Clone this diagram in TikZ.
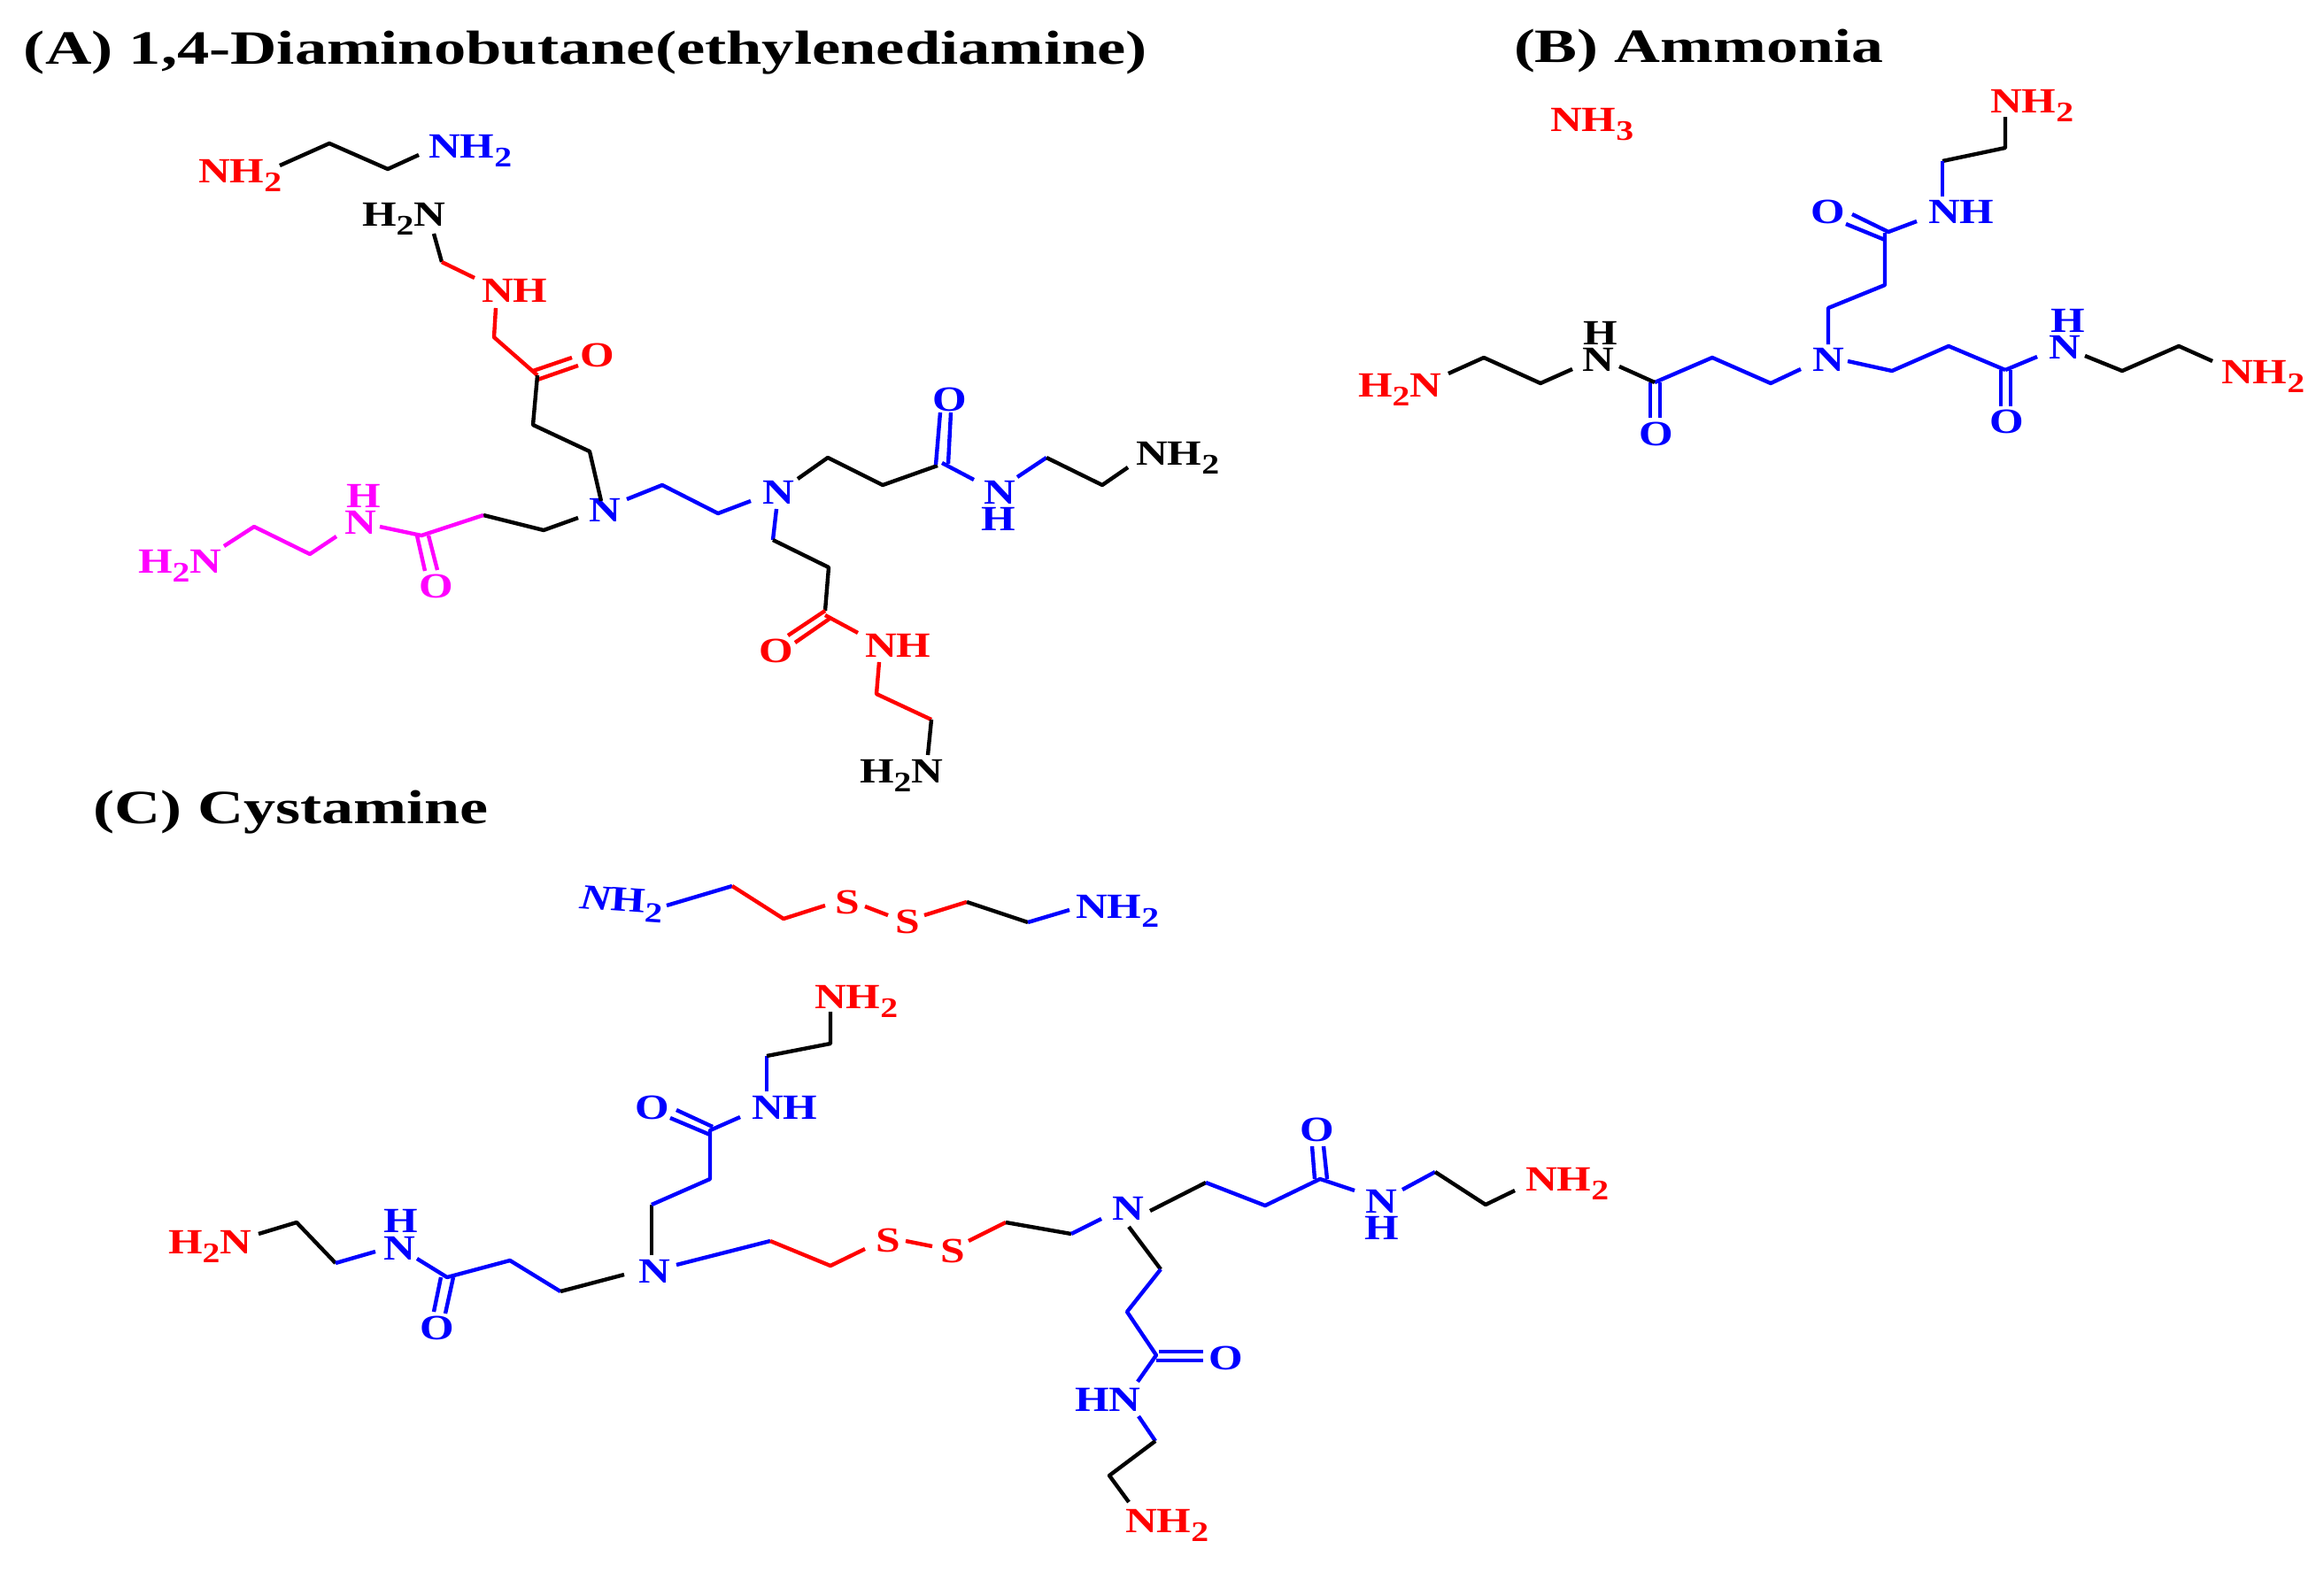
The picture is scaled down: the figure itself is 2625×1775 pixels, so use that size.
\documentclass[tikz,border=0pt]{standalone}
\usepackage{graphicx}
\usepackage{fontspec}
\setmainfont{Liberation Serif}
\definecolor{pureMagenta}{RGB}{255,0,255}
\definecolor{pureRed}{RGB}{255,0,0}
\definecolor{pureBlue}{RGB}{0,0,255}
\newcommand\atm[1]{\scalebox{1.24}[1]{\fontsize{40}{40}\selectfont\bfseries #1}}
\newcommand\sbs[1]{\raisebox{-10pt}{\fontsize{32}{32}\selectfont #1}}
\newcommand\ttl[2]{\resizebox{#1}{\height}{\fontsize{54}{54}\selectfont\bfseries #2}}
\tikzset{
  atom/.style={anchor=base west,inner sep=0pt,outer sep=0pt},
  atR/.style={atom,text=pureRed},
  atB/.style={atom,text=pureBlue},
  atM/.style={atom,text=pureMagenta},
  atK/.style={atom,text=black},
  bond/.style={line width=4.4pt,line join=round},
  bk/.style={bond,draw=black},
  rd/.style={bond,draw=pureRed},
  bl/.style={bond,draw=pureBlue},
  mg/.style={bond,draw=pureMagenta}
}
\begin{document}
\begin{tikzpicture}[x=1pt,y=-1pt]
\useasboundingbox (0,0) rectangle (2625,1775);
% titles
\node[atom] (tA) at (27,72) {\ttl{1269pt}{(A) 1,4-Diaminobutane(ethylenediamine)}};
\node[atom] (tB) at (1710,70) {\ttl{417pt}{(B) Ammonia}};
\node[atom] (tC) at (105,930) {\ttl{447pt}{(C) Cystamine}};
% ------------ panel A
\foreach \n/\x/\y in {e1/316/187,e2/372/162,e3/438/191,e4/473/175,
 a1/490/264,a2/499/296,a3/536/314,a4/560/348,a5/558/381,a6/607/424,a7/602/480,a8/666/510,a9/679/566,
 a10/646/404,a11/602/419,a12/653/413,a13/607/429,
 m1/653/585,m2/614/599,m3/546/582,m4/476/605,m5/429/595,m6/471/605,m7/480/645,m8/484/605,m9/494/644,
 m10/380/606,m11/350/626,m12/287/595,m13/253/617,
 b1/708/564,b2/748/548,b3/811/580,b4/848/566,
 r1/901/541,r2/935/517,r3/997/548,r4/1059/526,r5/1057/525,r6/1062/466,r7/1071/524,r8/1074/466,
 r9/1064/523,r10/1100/542,r11/1149/539,r12/1182/517,r13/1245/548,r14/1274/528,
 d1/877/575,d2/873/610,d3/936/641,d4/932/695,d5/932/690,d6/890/718,d7/937/699,d8/898/726,d9/969/715,
 d10/993/748,d11/990/784,d12/1052/813,d13/1048/853}
 \coordinate (\n) at (\x,\y);
\node[atR] (aNa) at (224,206) {\atm{NH\sbs{2}}};
\node[atB] (aNb) at (484,178) {\atm{NH\sbs{2}}};
\node[atK] (aN1) at (409,255) {\atm{H\sbs{2}N}};
\node[atR] (aN2) at (544,341) {\atm{NH}};
\node[atR] (aO1) at (655,414) {\atm{O}};
\node[atB] (aC1) at (665,589) {\atm{N}};
\node[atM] (aH3) at (391,573) {\atm{H}};
\node[atM] (aN3) at (389,603) {\atm{N}};
\node[atM] (aN4) at (156,647) {\atm{H\sbs{2}N}};
\node[atM] (aO2) at (473,675) {\atm{O}};
\node[atB] (aC2) at (861,569) {\atm{N}};
\node[atB] (aO3) at (1053,464) {\atm{O}};
\node[atB] (aN5) at (1111,569) {\atm{N}};
\node[atB] (aH5) at (1108,599) {\atm{H}};
\node[atK] (aN6) at (1283,525) {\atm{NH\sbs{2}}};
\node[atR] (aO4) at (857,748) {\atm{O}};
\node[atR] (aN7) at (977,742) {\atm{NH}};
\node[atK] (aN8) at (971,884) {\atm{H\sbs{2}N}};
\draw[bk] (e1)--(e2)--(e3)--(e4);
\draw[bk] (a1)--(a2);
\draw[rd] (a2)--(a3);
\draw[rd] (a4)--(a5)--(a6);
\draw[rd] (a10)--(a11);
\draw[rd] (a12)--(a13);
\draw[bk] (a6)--(a7)--(a8)--(a9);
\draw[bk] (m1)--(m2)--(m3);
\draw[mg] (m3)--(m4)--(m5);
\draw[mg] (m6)--(m7);
\draw[mg] (m8)--(m9);
\draw[mg] (m10)--(m11)--(m12)--(m13);
\draw[bl] (b1)--(b2)--(b3)--(b4);
\draw[bk] (r1)--(r2)--(r3)--(r4);
\draw[bl] (r5)--(r6);
\draw[bl] (r7)--(r8);
\draw[bl] (r9)--(r10);
\draw[bl] (r11)--(r12);
\draw[bk] (r12)--(r13)--(r14);
\draw[bl] (d1)--(d2);
\draw[bk] (d2)--(d3)--(d5);
\draw[rd] (d5)--(d6);
\draw[rd] (d7)--(d8);
\draw[rd] (d4)--(d9);
\draw[rd] (d10)--(d11)--(d12);
\draw[bk] (d12)--(d13);
% ------------ panel B
\foreach \n/\x/\y in {u1/2265/132,u2/2265/167,u3/2194/182,u4/2194/222,
 u5/2092/242,u6/2133/262,u7/2085/253,u8/2129/271,u9/2165/250,
 u10/2129/263,u11/2129/322,u12/2065/348,u13/2065/389,
 l1/2034/417,l2/2000/433,l3/1934/404,l4/1869/432,l5/1864/432,l6/1864/472,l7/1875/432,l8/1875/472,
 l9/1829/414,l10/1776/417,l11/1740/433,l12/1676/404,l13/1636/422,
 q1/2087/408,q2/2137/419,q3/2201/391,q4/2265/418,q5/2260/418,q6/2260/459,q7/2271/418,q8/2271/459,
 q9/2301/403,q10/2355/402,q11/2397/419,q12/2461/391,q13/2499/408}
 \coordinate (\n) at (\x,\y);
\node[atR] (bN0) at (1751,148) {\atm{NH\sbs{3}}};
\node[atR] (bN1) at (2248,127) {\atm{NH\sbs{2}}};
\node[atB] (bN2) at (2178,252) {\atm{NH}};
\node[atB] (bO1) at (2045,252) {\atm{O}};
\node[atB] (bC) at (2047,419) {\atm{N}};
\node[atB] (bO2) at (1851,503) {\atm{O}};
\node[atK] (bH3) at (1788,389) {\atm{H}};
\node[atK] (bN3) at (1787,419) {\atm{N}};
\node[atR] (bN4) at (1534,448) {\atm{H\sbs{2}N}};
\node[atB] (bO3) at (2247,489) {\atm{O}};
\node[atB] (bH5) at (2316,375) {\atm{H}};
\node[atB] (bN5) at (2314,405) {\atm{N}};
\node[atR] (bN6) at (2509,433) {\atm{NH\sbs{2}}};
\draw[bk] (u1)--(u2)--(u3);
\draw[bl] (u3)--(u4);
\draw[bl] (u5)--(u6)--(u9);
\draw[bl] (u7)--(u8);
\draw[bl] (u10)--(u11)--(u12)--(u13);
\draw[bl] (l1)--(l2)--(l3)--(l4);
\draw[bl] (l5)--(l6);
\draw[bl] (l7)--(l8);
\draw[bk] (l4)--(l9);
\draw[bk] (l10)--(l11)--(l12)--(l13);
\draw[bl] (q1)--(q2)--(q3)--(q4);
\draw[bl] (q5)--(q6);
\draw[bl] (q7)--(q8);
\draw[bl] (q4)--(q9);
\draw[bk] (q10)--(q11)--(q12)--(q13);
% ------------ panel C, free cystamine
\foreach \n/\x/\y in {c1/753/1023,c2/827/1001,c3/885/1038,c4/932/1023,c5/977/1024,c6/1003/1034,
 c7/1044/1034,c8/1092/1019,c9/1161/1042,c10/1208/1028}
 \coordinate (\n) at (\x,\y);
\node[atB,rotate=-4] (cNa) at (654,1026) {\atm{{\itshape N}H\sbs{2}}};
\node[atR] (cSa) at (943,1032) {\atm{S}};
\node[atR] (cSb) at (1011,1054) {\atm{S}};
\node[atB] (cNb) at (1215,1037) {\atm{NH\sbs{2}}};
\draw[bl] (c1)--(c2);
\draw[rd] (c2)--(c3)--(c4);
\draw[rd] (c5)--(c6);
\draw[rd] (c7)--(c8);
\draw[bk] (c8)--(c9);
\draw[bl] (c9)--(c10);
% ------------ panel C, dendrimer
\foreach \n/\x/\y in {f1/292/1394,f2/335/1381,f3/379/1427,f4/424/1414,f5/471/1422,f6/505/1443,
 f7/498/1443,f8/490/1482,f9/512/1443,f10/503/1484,f11/576/1424,f12/633/1459,f13/705/1440,
 g1/736/1418,g2/736/1361,g3/802/1332,g4/802/1277,g5/764/1254,g6/805/1273,g7/757/1263,g8/802/1282,
 g9/836/1262,g10/866/1233,g11/866/1193,g12/938/1179,g13/938/1143,
 h1/764/1429,h2/870/1402,h3/938/1430,h4/977/1411,h5/1023/1402,h6/1053/1408,h7/1094/1402,h8/1136/1381,
 h9/1210/1394,h10/1244/1377,
 j1/1299/1368,j2/1362/1336,j3/1429/1362,j4/1491/1332,j5/1482/1295,j6/1485/1332,j7/1495/1295,j8/1499/1332,
 j9/1530/1345,j10/1584/1344,j11/1621/1324,j12/1678/1361,j13/1711/1345,
 k1/1275/1386,k2/1311/1434,k3/1273/1482,k4/1306/1531,k5/1309/1527,k6/1359/1527,k7/1306/1537,k8/1359/1537,
 k9/1285/1561,k10/1286/1600,k11/1305/1628,k12/1253/1667,k13/1275/1697}
 \coordinate (\n) at (\x,\y);
\node[atR] (dN1) at (190,1416) {\atm{H\sbs{2}N}};
\node[atB] (dH2) at (433,1392) {\atm{H}};
\node[atB] (dN2) at (433,1423) {\atm{N}};
\node[atB] (dO1) at (474,1513) {\atm{O}};
\node[atB] (dC1) at (721,1449) {\atm{N}};
\node[atB] (dO2) at (717,1264) {\atm{O}};
\node[atB] (dN3) at (849,1264) {\atm{NH}};
\node[atR] (dN4) at (920,1139) {\atm{NH\sbs{2}}};
\node[atR] (dS1) at (989,1414) {\atm{S}};
\node[atR] (dS2) at (1062,1426) {\atm{S}};
\node[atB] (dC2) at (1256,1378) {\atm{N}};
\node[atB] (dO3) at (1468,1289) {\atm{O}};
\node[atB] (dN5) at (1542,1370) {\atm{N}};
\node[atB] (dH5) at (1541,1400) {\atm{H}};
\node[atR] (dN6) at (1723,1345) {\atm{NH\sbs{2}}};
\node[atB] (dO4) at (1365,1547) {\atm{O}};
\node[atB] (dN7) at (1214,1594) {\atm{HN}};
\node[atR] (dN8) at (1271,1731) {\atm{NH\sbs{2}}};
\draw[bk] (f1)--(f2)--(f3);
\draw[bl] (f3)--(f4);
\draw[bl] (f5)--(f6)--(f11)--(f12);
\draw[bl] (f7)--(f8);
\draw[bl] (f9)--(f10);
\draw[bk] (f12)--(f13);
\draw[bk] (g1)--(g2);
\draw[bl] (g2)--(g3)--(g4)--(g9);
\draw[bl] (g5)--(g6);
\draw[bl] (g7)--(g8);
\draw[bl] (g10)--(g11);
\draw[bk] (g11)--(g12)--(g13);
\draw[bl] (h1)--(h2);
\draw[rd] (h2)--(h3)--(h4);
\draw[rd] (h5)--(h6);
\draw[rd] (h7)--(h8);
\draw[bk] (h8)--(h9);
\draw[bl] (h9)--(h10);
\draw[bk] (j1)--(j2);
\draw[bl] (j2)--(j3)--(j4)--(j9);
\draw[bl] (j5)--(j6);
\draw[bl] (j7)--(j8);
\draw[bl] (j10)--(j11);
\draw[bk] (j11)--(j12)--(j13);
\draw[bk] (k1)--(k2);
\draw[bl] (k2)--(k3)--(k4)--(k9);
\draw[bl] (k5)--(k6);
\draw[bl] (k7)--(k8);
\draw[bl] (k10)--(k11);
\draw[bk] (k11)--(k12)--(k13);
\end{tikzpicture}
\end{document}
